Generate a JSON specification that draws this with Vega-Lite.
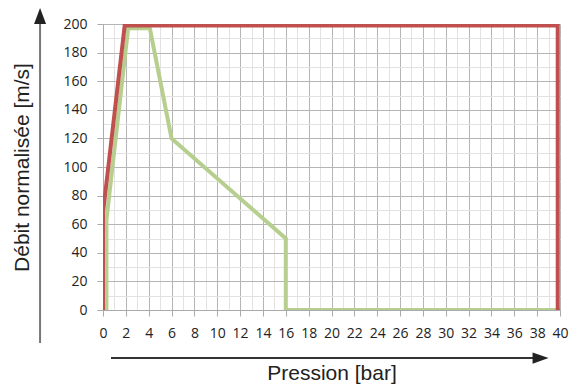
{
  "$schema": "https://vega.github.io/schema/vega-lite/v6.json",
  "width": 457,
  "height": 286,
  "autosize": "none",
  "padding": {"left": 103, "top": 24, "right": 12, "bottom": 77},
  "background": "white",
  "config": {"view": {"stroke": null}, "font": "Open Sans"},
  "datasets": {
    "curves": [
      {"s": "red", "o": 1, "p": 0, "d": 0},
      {"s": "red", "o": 2, "p": 0, "d": 68},
      {"s": "red", "o": 3, "p": 1.9, "d": 199},
      {"s": "red", "o": 4, "p": 39.8, "d": 199},
      {"s": "red", "o": 5, "p": 39.8, "d": 0},
      {"s": "green", "o": 1, "p": 0.3, "d": 0},
      {"s": "green", "o": 2, "p": 0.3, "d": 63},
      {"s": "green", "o": 3, "p": 2.2, "d": 197},
      {"s": "green", "o": 4, "p": 4.1, "d": 197},
      {"s": "green", "o": 5, "p": 6, "d": 120},
      {"s": "green", "o": 6, "p": 16, "d": 50},
      {"s": "green", "o": 7, "p": 16, "d": 0},
      {"s": "green", "o": 8, "p": 40, "d": 0}
    ],
    "arrows": [
      {"a": "y", "x1": -5.51, "y1": -23, "x2": -5.51, "y2": 200, "hx": -5.51, "hy": 205.6},
      {"a": "x", "x1": 0.7, "y1": -33.6, "x2": 37.7, "y2": -33.6, "hx": 38.3, "hy": -33.6}
    ]
  },
  "resolve": {"axis": {"x": "independent", "y": "independent"}},
  "layer": [
    {
      "data": {"name": "curves"},
      "transform": [{"filter": "datum.s === 'green'"}],
      "mark": {"type": "line", "stroke": "#B6CF8F", "strokeWidth": 4, "clip": true, "strokeJoin": "miter"},
      "encoding": {
        "x": {"field": "p", "type": "quantitative", "scale": {"domain": [0, 40], "nice": false, "zero": false},
          "axis": {"orient": "top", "values": [1,3,5,7,9,11,13,15,17,19,21,23,25,27,29,31,33,35,37,39], "labels": false, "ticks": false, "domain": false, "title": null, "grid": true, "gridColor": "#e2e2e2", "gridWidth": 1}},
        "y": {"field": "d", "type": "quantitative", "scale": {"domain": [0, 200], "nice": false, "zero": false},
          "axis": {"orient": "right", "values": [10,30,50,70,90,110,130,150,170,190], "labels": false, "ticks": false, "domain": false, "title": null, "grid": true, "gridColor": "#e2e2e2", "gridWidth": 1}},
        "order": {"field": "o", "type": "quantitative"}
      }
    },
    {
      "data": {"name": "curves"},
      "transform": [{"filter": "datum.s === 'red'"}],
      "mark": {"type": "line", "stroke": "#C0504D", "strokeWidth": 4, "clip": true, "strokeJoin": "miter"},
      "encoding": {
        "x": {"field": "p", "type": "quantitative",
          "axis": {"orient": "bottom", "values": [0,2,4,6,8,10,12,14,16,18,20,22,24,26,28,30,32,34,36,38,40], "title": "Pression [bar]", "titleFontSize": 21, "titleFontWeight": "normal", "titleColor": "#222", "titleFont": "Liberation Sans", "titlePadding": 22, "labelFontSize": 14, "labelColor": "#222", "labelPadding": 10, "tickSize": 6, "tickColor": "#aaa", "domainColor": "#aaa", "grid": true, "gridColor": "#b5b5b5", "gridWidth": 1, "labelFlush": false}},
        "y": {"field": "d", "type": "quantitative",
          "axis": {"orient": "left", "values": [0,20,40,60,80,100,120,140,160,180,200], "title": "Débit normalisée [m/s]", "titleFontSize": 21, "titleFontWeight": "normal", "titleColor": "#222", "titleFont": "Liberation Sans", "titlePadding": 30, "labelFontSize": 14, "labelColor": "#222", "labelPadding": 10, "tickSize": 6, "tickColor": "#aaa", "domainColor": "#aaa", "grid": true, "gridColor": "#b5b5b5", "gridWidth": 1, "labelFlush": false}},
        "order": {"field": "o", "type": "quantitative"}
      }
    },
    {
      "data": {"name": "arrows"},
      "mark": {"type": "rule", "clip": false, "strokeWidth": 2},
      "encoding": {
        "x": {"field": "x1", "type": "quantitative", "axis": null},
        "x2": {"field": "x2"},
        "y": {"field": "y1", "type": "quantitative", "axis": null},
        "y2": {"field": "y2"},
        "color": {"field": "a", "type": "nominal", "scale": {"domain": ["x", "y"], "range": ["#333333", "#777777"]}, "legend": null}
      }
    },
    {
      "data": {"name": "arrows"},
      "mark": {"type": "point", "clip": false, "filled": true, "color": "#222", "opacity": 1, "size": 256},
      "encoding": {
        "x": {"field": "hx", "type": "quantitative", "axis": null},
        "y": {"field": "hy", "type": "quantitative", "axis": null},
        "shape": {"field": "a", "type": "nominal", "scale": {"domain": ["x", "y"], "range": ["M1,0L-1,-0.7L-1,0.7Z", "M0,-1L-0.75,1L0.75,1Z"]}, "legend": null}
      }
    }
  ]
}
